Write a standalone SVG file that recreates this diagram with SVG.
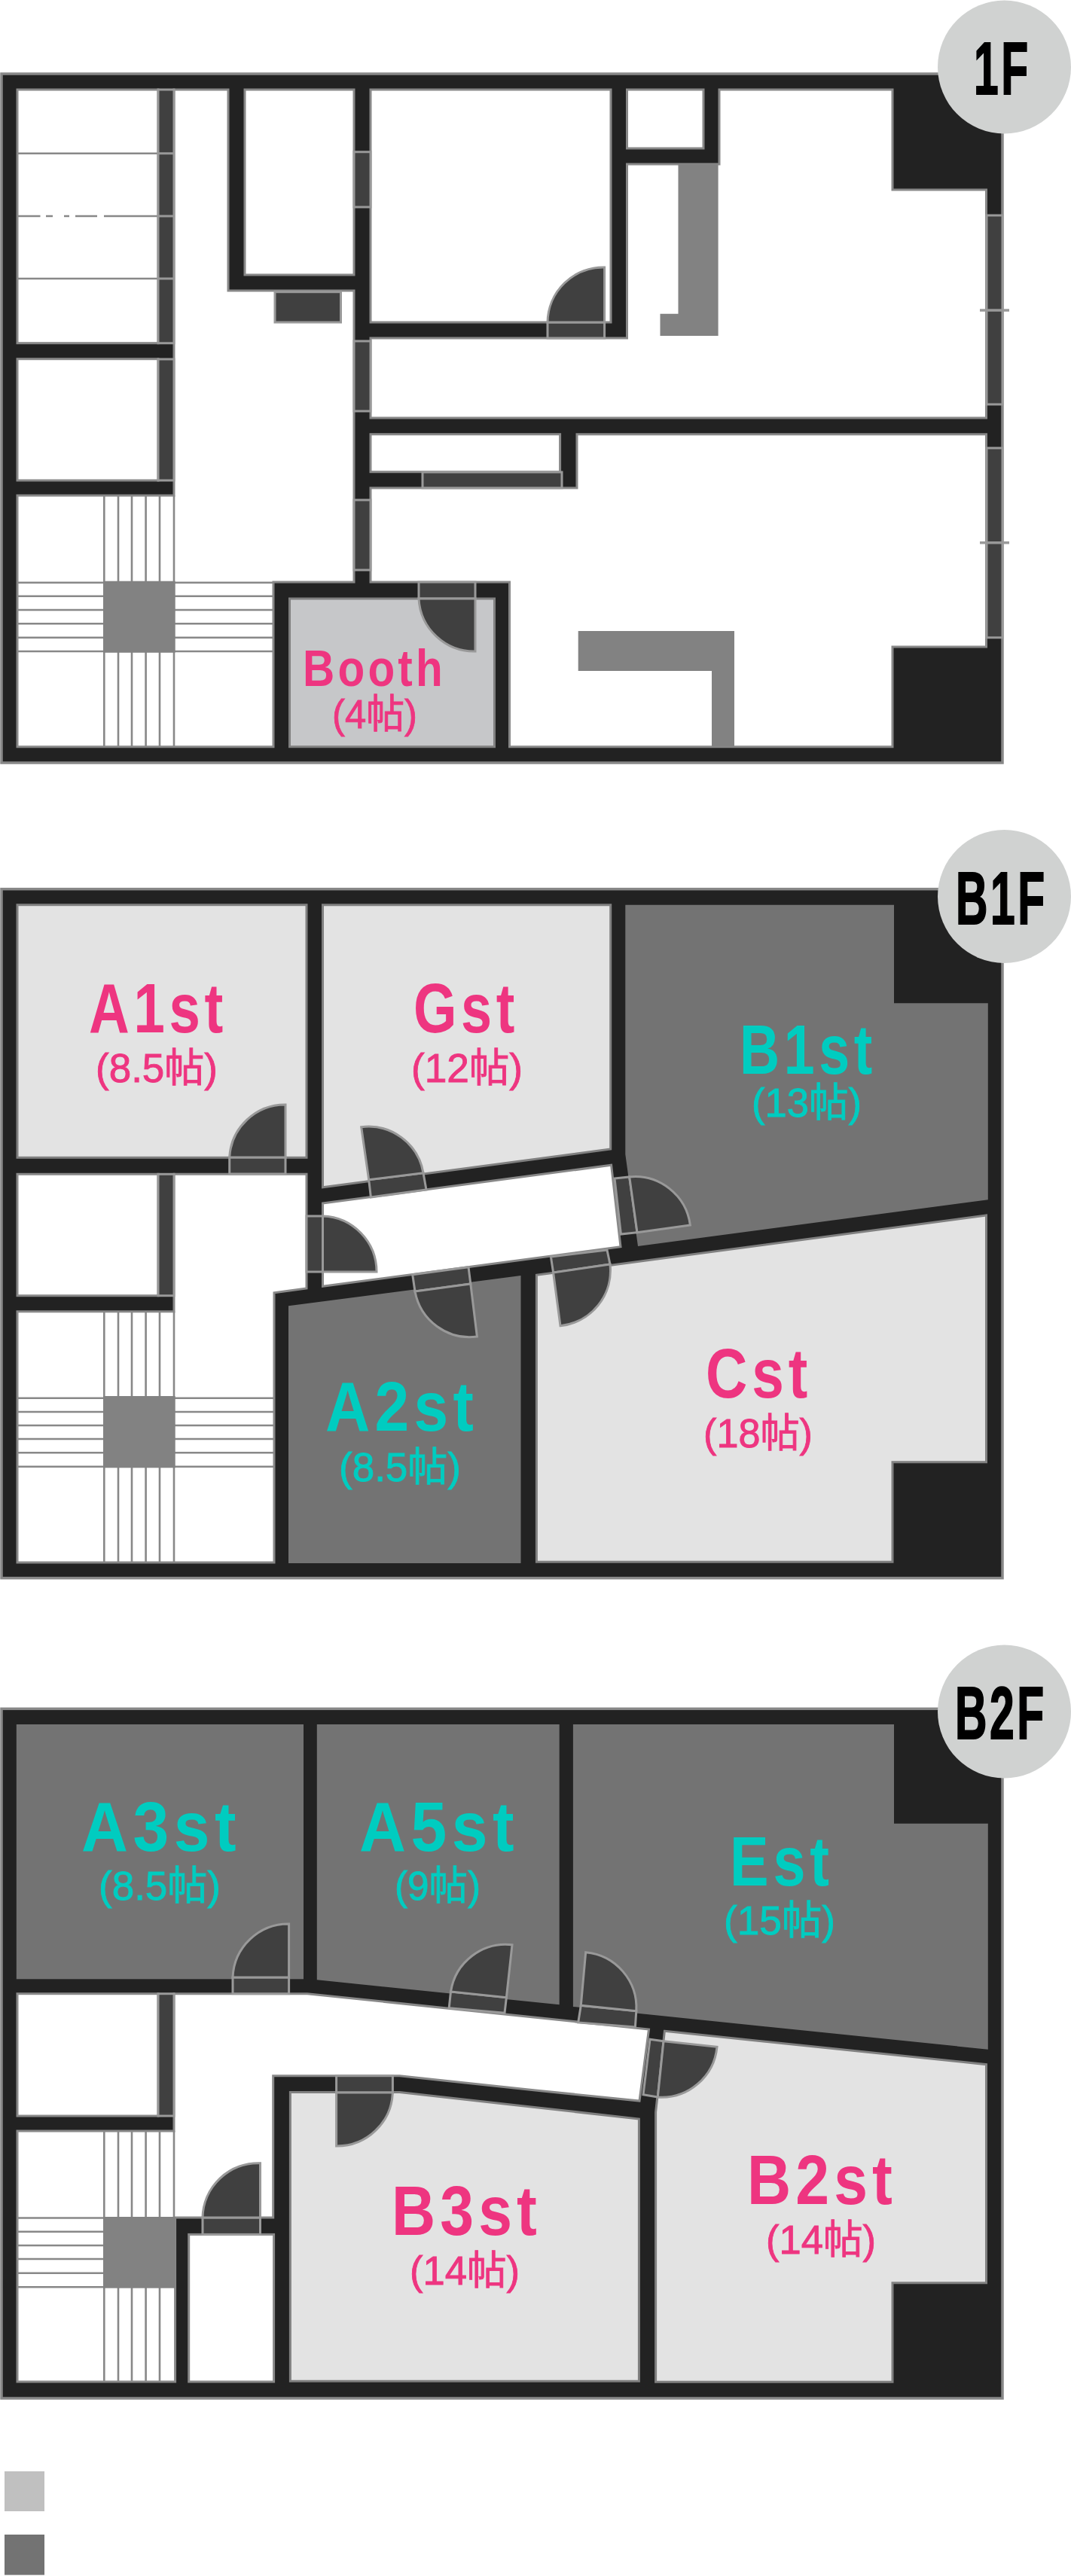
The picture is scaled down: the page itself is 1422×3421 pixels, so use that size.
<svg xmlns="http://www.w3.org/2000/svg" width="1422" height="3421" viewBox="0 0 1422 3421">
<style>
.w{fill:#222;stroke:#888;stroke-width:3.5}
.o{fill:#fff;stroke:#888;stroke-width:3}
.r{fill:#e3e3e3;stroke:#808080;stroke-width:3}
.b{fill:#c6c7c9;stroke:#808080;stroke-width:3}
.k{fill:#737373}
.d{fill:#404040;stroke:#999;stroke-width:3}
.c{fill:#828282}
.l{fill:none;stroke:#888;stroke-width:2.6}
.t{fill:#999}
.bd{fill:#d0d2d1}
.f{font:bold 98px "Liberation Sans","Noto Sans",sans-serif;fill:#000;stroke:#000;stroke-width:2;letter-spacing:6px}
.n{font:bold 92px "Liberation Sans","Noto Sans",sans-serif;letter-spacing:7px}
.s{font:400 53px "Liberation Sans","Noto Sans CJK JP",sans-serif;stroke-width:.9px}
.p{fill:#ee3580;stroke:#ee3580}
.g{fill:#00ccc0;stroke:#00ccc0}
.n.p,.n.g{stroke:none}
</style>

<g id="floor-1F">
<rect class="w" x="2" y="98" width="1329" height="915"/>
<g id="f1-closet-a"><rect class="o" x="23" y="119" width="187" height="336.7"/></g>
<g id="f1-closet-b"><rect class="o" x="23" y="476.7" width="187" height="161.3"/></g>
<path class="o" d="M231,119H303V386H470V773H363V991.7H23V658H231Z"/>
<g id="f1-closet-c"><rect class="o" x="325" y="119" width="145" height="246"/></g>
<g id="f1-room-a"><rect class="o" x="492" y="119" width="319" height="309"/></g>
<g id="f1-closet-d"><rect class="o" x="832.5" y="119" width="101.500" height="78"/></g>
<g id="f1-room-b"><path class="o" d="M492,449H832.5V218H955V119H1185V252H1309.5V555H492Z"/></g>
<g id="f1-closet-e"><rect class="o" x="492" y="576.7" width="251.600" height="50"/></g>
<g id="f1-room-c"><path class="o" d="M492,648H766V576.7H1309.5V859H1185V991.7H676.500V773H492Z"/></g>
<path class="l" d="M24,203.700H210M24,370H210M24,287H53.500M61,287H70M85,287H92M100,287H129M138,287H210"/>
<path class="d" d="M210,119H231V203.700H210ZM210,203.700H231V287H210ZM210,287H231V370H210ZM210,370H231V455.700H210ZM210,477H231V638H210Z"/>
<path class="d" d="M470,201.700H492V275H470ZM470,453H492V546H470ZM470,664H492V757H470ZM561,627H746V648H561ZM1310,286H1331V537H1310ZM1310,595H1331V846.700H1310Z"/>
<rect class="d" x="365" y="387.700" width="87.500" height="40.300"/>
<rect class="t" x="1301" y="410.300" width="39" height="3.500"/>
<rect class="t" x="1301" y="719" width="39" height="3.500"/>
<path class="c" d="M900.500,218H953.600V446H876.500V416.700H900.500Z"/>
<path class="c" d="M767.700,838H975V991.700H945V891H767.700Z"/>
<path class="l" d="M138.300,658V991.700M157,658V991.700M175,658V991.700M193.600,658V991.700M212,658V991.700M231,658V991.700M24,773.700H363M24,791.700H363M24,810H363M24,828.300H363M24,846.700H363M24,865H363"/>
<rect class="c" x="137" y="771.700" width="95.600" height="95"/>
<g id="f1-door-a"><rect class="d" x="727" y="428" width="75.600" height="21"/><path class="d" d="M802.600,428V355A74,74 0 0 0 727,428Z"/></g>
<g id="booth">
<rect class="b" x="384.500" y="795" width="272" height="196.700"/>
<rect class="d" x="556" y="773" width="75" height="22"/>
<path class="d" d="M631,795V865A74,74 0 0 1 556,795Z"/>
<text class="n p" style="font-size:69px;letter-spacing:5px" x="402" y="910.700" textLength="190" lengthAdjust="spacingAndGlyphs">Booth</text>
<text class="s p" x="441" y="967" textLength="113" lengthAdjust="spacingAndGlyphs">(4帖)</text>
</g>
<g id="badge-1F"><circle class="bd" cx="1333.500" cy="89" r="88.500"/><text class="f" transform="translate(1293,124.500) scale(.6,1)">1F</text></g>
</g>

<g id="floor-B1F">
<rect class="w" x="2" y="1180.700" width="1329" height="915"/>
<g id="a1st">
<rect class="r" x="23" y="1201.700" width="384" height="335.600"/>
<text class="n p" x="118" y="1370.700" textLength="184" lengthAdjust="spacingAndGlyphs">A1st</text>
<text class="s p" x="127" y="1437" textLength="162" lengthAdjust="spacingAndGlyphs">(8.5帖)</text>
</g>
<g id="gst">
<path class="r" d="M428.500,1201.700H810.700V1526L428.500,1576.700Z"/>
<text class="n p" x="549" y="1370.700" textLength="140" lengthAdjust="spacingAndGlyphs">Gst</text>
<text class="s p" x="546" y="1437" textLength="148" lengthAdjust="spacingAndGlyphs">(12帖)</text>
</g>
<g id="b1st">
<path class="k" d="M830.300,1201.700H1187V1332.300H1311.800V1593.300L847,1655L830.300,1533Z"/>
<text class="n g" x="982" y="1425.700" textLength="182" lengthAdjust="spacingAndGlyphs">B1st</text>
<text class="s g" x="998" y="1482.700" textLength="146" lengthAdjust="spacingAndGlyphs">(13帖)</text>
</g>
<g id="a2st">
<path class="k" d="M383,1734.300L691.500,1694V2076H383Z"/>
<text class="n g" x="432" y="1900" textLength="203" lengthAdjust="spacingAndGlyphs">A2st</text>
<text class="s g" x="450" y="1966.700" textLength="162" lengthAdjust="spacingAndGlyphs">(8.5帖)</text>
</g>
<g id="cst">
<path class="r" d="M712.400,1693.300L1309.500,1614V1941.700H1185V2074.300H712.400Z"/>
<text class="n p" x="937" y="1856" textLength="141" lengthAdjust="spacingAndGlyphs">Cst</text>
<text class="s p" x="934" y="1922" textLength="145" lengthAdjust="spacingAndGlyphs">(18帖)</text>
</g>
<path class="o" d="M231,1559.300H407V1711L364,1716.700V2075H23V1741.700H231Z"/>
<path class="o" d="M428.500,1598L811.600,1547.300L824,1655.700L428.500,1708.300Z"/>
<rect class="o" x="23" y="1559.300" width="187" height="161.400"/>
<rect class="d" x="210" y="1559.300" width="21" height="161.400"/>
<path class="l" d="M138.300,1741.700V2075M157,1741.700V2075M175,1741.700V2075M193.600,1741.700V2075M212,1741.700V2075M231,1741.700V2075M24,1856.700H363M24,1875H363M24,1893H363M24,1911H363M24,1929.300H363M24,1947.700H363"/>
<rect class="c" x="137" y="1854" width="95.600" height="95.300"/>
<g id="door-a1"><rect class="d" x="304.700" y="1537" width="74.300" height="22"/><path class="d" d="M379,1537V1467A74,74 0 0 0 304.700,1537Z"/></g>
<g id="door-g"><path class="d" d="M489.700,1566.700L562,1557.700L566,1580L492.400,1590Z"/><path class="d" d="M489.700,1566.700L479.700,1496.700A74,74 0 0 1 562,1557.700Z"/></g>
<g id="door-hall"><rect class="d" x="407" y="1615" width="21.500" height="74"/><path class="d" d="M428.500,1689V1615A74,74 0 0 1 500,1689Z"/></g>
<g id="door-a2"><path class="d" d="M547.700,1692.700L622,1682.700L624.800,1705L551,1715Z"/><path class="d" d="M624.800,1705L633.400,1775A74,74 0 0 1 551,1715Z"/></g>
<g id="door-c"><path class="d" d="M731.400,1669L806,1660L810,1679L734.600,1690Z"/><path class="d" d="M734.600,1690L744,1760.700A74,74 0 0 0 810,1679Z"/></g>
<g id="door-b1"><path class="d" d="M816,1565L835.700,1563L846,1636.700L824.400,1639Z"/><path class="d" d="M846,1636.700L835.700,1563A74,74 0 0 1 916.400,1627Z"/></g>
<g id="badge-B1F"><circle class="bd" cx="1333.500" cy="1190.500" r="88.500"/><text class="f" transform="translate(1269,1226.500) scale(.6,1)">B1F</text></g>
</g>

<g id="floor-B2F">
<rect class="w" x="2" y="2269.300" width="1329" height="915.700"/>
<g id="a3st">
<rect class="k" x="21.800" y="2290" width="381.200" height="338.300"/>
<text class="n g" x="108" y="2457.700" textLength="212" lengthAdjust="spacingAndGlyphs">A3st</text>
<text class="s g" x="131" y="2523" textLength="162" lengthAdjust="spacingAndGlyphs">(8.5帖)</text>
</g>
<g id="a5st">
<path class="k" d="M420.800,2290H742.700V2662.300L420.800,2629.300Z"/>
<text class="n g" x="477" y="2457.700" textLength="212" lengthAdjust="spacingAndGlyphs">A5st</text>
<text class="s g" x="524" y="2523" textLength="114" lengthAdjust="spacingAndGlyphs">(9帖)</text>
</g>
<g id="est">
<path class="k" d="M760.900,2290H1187V2421.700H1311.800V2721.700L760.900,2665Z"/>
<text class="n g" x="969" y="2504" textLength="138" lengthAdjust="spacingAndGlyphs">Est</text>
<text class="s g" x="961" y="2569" textLength="148" lengthAdjust="spacingAndGlyphs">(15帖)</text>
</g>
<g id="b3st">
<path class="r" d="M385.400,2778.600H530.500L848.400,2814V3162.300H385.400Z"/>
<text class="n p" x="520" y="2968" textLength="199" lengthAdjust="spacingAndGlyphs">B3st</text>
<text class="s p" x="544" y="3033.600" textLength="146" lengthAdjust="spacingAndGlyphs">(14帖)</text>
</g>
<g id="b2st">
<path class="r" d="M882.400,2697.300L1309.500,2741.700V3031.700H1185V3163.300H870.600V2805Z"/>
<text class="n p" x="992" y="2926.700" textLength="199" lengthAdjust="spacingAndGlyphs">B2st</text>
<text class="s p" x="1017" y="2992.700" textLength="146" lengthAdjust="spacingAndGlyphs">(14帖)</text>
</g>
<path class="o" d="M23,2830H231V2647.700H408L861.500,2695L849,2790L711,2776L530.500,2756.700H362.700V2945H232.600V3163H23Z"/>
<rect class="o" x="23" y="2647.700" width="187" height="162.300"/>
<rect class="d" x="210" y="2647.700" width="21" height="162.300"/>
<rect class="o" x="250.700" y="2967.400" width="112.900" height="195.600"/>
<path class="l" d="M138.300,2830V3163M157,2830V3163M175,2830V3163M193.600,2830V3163M212,2830V3163M231,2830V2945M24,2945.500H137M24,2963.700H137M24,2982H137M24,3000H137M24,3018.700H137M24,3037.300H137"/>
<rect class="c" x="137" y="2944" width="95.600" height="94.700"/>
<g id="door-a3"><rect class="d" x="309" y="2626" width="74.600" height="21.700"/><path class="d" d="M383.600,2626V2555A74,74 0 0 0 309,2626Z"/></g>
<g id="door-a5"><path class="d" d="M598.500,2645L672.400,2652.700L670,2673.300L596.200,2666.700Z"/><path class="d" d="M672.400,2652.700L680,2582.700A74,74 0 0 0 598.500,2645Z"/></g>
<g id="door-e"><path class="d" d="M771.300,2663.300L844.800,2670.700L843.400,2692L767.700,2686Z"/><path class="d" d="M771.300,2663.300L777.700,2592.700A74,74 0 0 1 844.800,2670.700Z"/></g>
<g id="door-b3"><rect class="d" x="446.600" y="2756.700" width="74.800" height="22.300"/><path class="d" d="M446.600,2779V2850A74,74 0 0 0 521.400,2779Z"/></g>
<g id="door-b2"><path class="d" d="M863,2708.300L881,2710.700L873.300,2785L854,2781.700Z"/><path class="d" d="M881,2710.700L952,2718.300A74,74 0 0 1 873.300,2785Z"/></g>
<g id="door-closet"><rect class="d" x="269" y="2945" width="76.500" height="22.400"/><path class="d" d="M345.500,2945V2872.700A74,74 0 0 0 269,2945Z"/></g>
<g id="badge-B2F"><circle class="bd" cx="1333.500" cy="2273" r="88.500"/><text class="f" transform="translate(1268,2308.500) scale(.6,1)">B2F</text></g>
</g>

<g id="legend">
<rect x="6" y="3282" width="53" height="53" fill="#c0c0c0"/>
<rect x="6" y="3366" width="53" height="53.600" fill="#737373"/>
</g>
</svg>
